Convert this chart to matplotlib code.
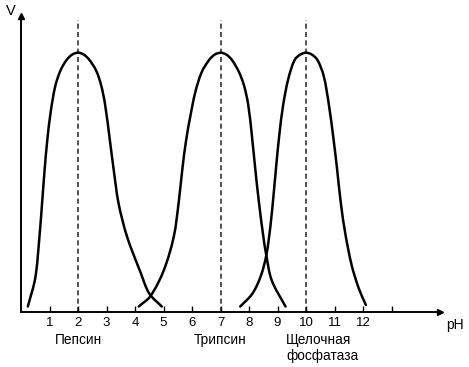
import matplotlib
matplotlib.use("Agg")
import matplotlib.pyplot as plt
import numpy as np
from matplotlib.path import Path
from matplotlib.patches import PathPatch

plt.rcParams['font.family'] = ['Liberation Sans', 'DejaVu Sans']

# Curves: pH values and relative activity V (peak = 1)
pepsin_ph = [0.24, 0.50, 0.64, 0.74, 0.83, 0.92, 1.04, 1.20, 1.38, 1.60, 1.80, 2.0,
             2.20, 2.40, 2.64, 2.81, 2.95, 3.12, 3.25, 3.42, 3.72, 4.20, 4.50, 4.94]
pepsin_v = [0.02, 0.13, 0.28, 0.42, 0.55, 0.66, 0.77, 0.87, 0.93, 0.972, 0.993, 1.0,
            0.993, 0.972, 0.93, 0.875, 0.80, 0.66, 0.55, 0.42, 0.29, 0.15, 0.07, 0.02]

trypsin_ph = [4.13, 4.54, 5.01, 5.36, 5.53, 5.66, 5.79, 5.95, 6.12, 6.34, 6.60, 6.80, 7.0,
              7.20, 7.40, 7.64, 7.82, 7.97, 8.10, 8.22, 8.35, 8.49, 8.61, 8.80, 9.28]
trypsin_v = [0.02, 0.06, 0.16, 0.29, 0.42, 0.55, 0.66, 0.76, 0.85, 0.925, 0.972, 0.993, 1.0,
             0.993, 0.972, 0.927, 0.875, 0.80, 0.68, 0.55, 0.42, 0.30, 0.215, 0.12, 0.02]

phosph_ph = [7.69, 8.12, 8.42, 8.61, 8.75, 8.86, 8.96, 9.06, 9.20, 9.38, 9.60, 9.80, 10.0,
             10.20, 10.40, 10.62, 10.80, 10.96, 11.09, 11.22, 11.38, 11.60, 11.85, 12.10]
phosph_v = [0.02, 0.07, 0.14, 0.22, 0.33, 0.45, 0.57, 0.68, 0.80, 0.90, 0.972, 0.993, 1.0,
            0.993, 0.972, 0.91, 0.80, 0.67, 0.55, 0.42, 0.30, 0.18, 0.09, 0.026]

optimum_ph = [2, 7, 10]
tick_values = list(range(1, 14))
tick_labels = [str(i) for i in range(1, 13)] + [""]
enzyme_labels = ["Пепсин", "Трипсин", "Щелочная\nфосфатаза"]
enzyme_label_x = [2.0, 7.0, 9.3]

W, H = 469, 367
fig = plt.figure(figsize=(W / 100, H / 100), dpi=100)
x0, x1 = 21, 440
y_axis, y_top = 311.7, 16
ax = fig.add_axes([x0 / W, (H - y_axis) / H, (x1 - x0) / W, (y_axis - y_top) / H])
xmax = 14.7
ymax = (y_axis - y_top) / (y_axis - 52.7)
ax.set_xlim(0, xmax)
ax.set_ylim(0, ymax)

for s in ['top', 'right']:
    ax.spines[s].set_visible(False)
for s in ['left', 'bottom']:
    ax.spines[s].set_linewidth(1.4)
    ax.spines[s].set_color('black')

ax.plot([xmax], [0], marker='>', color='black', markersize=5, clip_on=False)
ax.plot([0], [ymax], marker='^', color='black', markersize=4, clip_on=False)

for ph in optimum_ph:
    ax.plot([ph, ph], [0, 1.125], color='#333333', lw=1.2, ls=(0, (3, 2)), zorder=1)


def smooth_path(xs, vs):
    # Hermite/Bezier path through the read points (chordal parametrisation)
    P = np.column_stack([np.asarray(xs, float), np.asarray(vs, float)])
    scale = np.array([28.5, 259.0])
    Q = P * scale
    d = np.linalg.norm(np.diff(Q, axis=0), axis=1)
    t = np.concatenate([[0], np.cumsum(d)])
    n = len(P)
    T = np.zeros_like(Q)
    for i in range(n):
        if i == 0:
            T[i] = (Q[1] - Q[0]) / (t[1] - t[0])
        elif i == n - 1:
            T[i] = (Q[-1] - Q[-2]) / (t[-1] - t[-2])
        else:
            T[i] = (Q[i + 1] - Q[i - 1]) / (t[i + 1] - t[i - 1])
    verts = [P[0]]
    codes = [Path.MOVETO]
    for i in range(n - 1):
        h = t[i + 1] - t[i]
        c1 = (Q[i] + T[i] * h / 3) / scale
        c2 = (Q[i + 1] - T[i + 1] * h / 3) / scale
        verts += [c1, c2, P[i + 1]]
        codes += [Path.CURVE4] * 3
    return Path(np.array(verts), codes)


for xs, vs in [(pepsin_ph, pepsin_v), (trypsin_ph, trypsin_v), (phosph_ph, phosph_v)]:
    ax.add_patch(PathPatch(smooth_path(xs, vs), fill=False, edgecolor='black',
                           lw=1.8, capstyle='round', joinstyle='round', zorder=2))

ax.set_xticks(tick_values)
ax.set_xticklabels(tick_labels, fontsize=9.5)
ax.tick_params(axis='x', direction='in', length=4, width=1.0, pad=4)
ax.set_yticks([])

for lbl, xv in zip(enzyme_labels, enzyme_label_x):
    if '\n' in lbl:
        ax.text(xv, -0.083, lbl, ha='left', va='top', fontsize=9.8, linespacing=1.15)
    else:
        ax.text(xv, -0.083, lbl, ha='center', va='top', fontsize=9.8)

fig.text(455 / W, 1 - 325 / H, "pH", ha='center', va='center', fontsize=10)
fig.text(11 / W, 1 - 11 / H, "V", ha='center', va='center', fontsize=10.5)

fig.savefig("out.png", dpi=100)
